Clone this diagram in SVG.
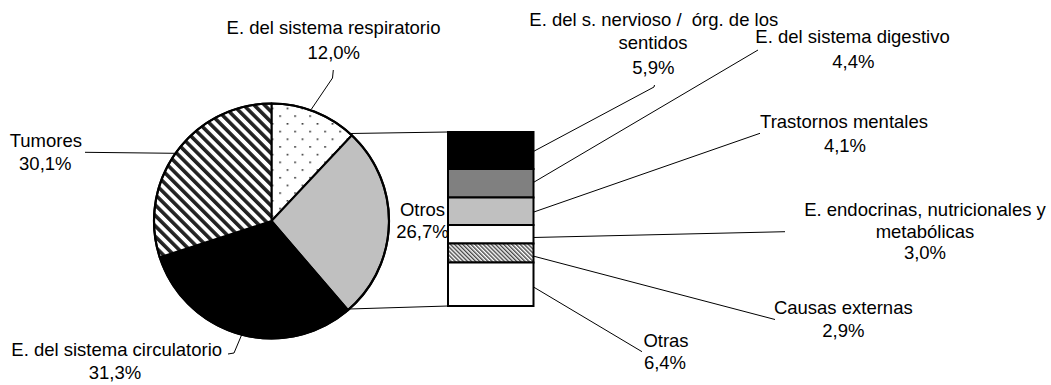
<svg xmlns="http://www.w3.org/2000/svg" width="1051" height="385" viewBox="0 0 1051 385">
<style>
text{font-family:"Liberation Sans",Arial,sans-serif;font-size:18.5px;fill:#000;text-anchor:middle}
.slice{stroke:#000;stroke-width:2;stroke-linejoin:round}
.seg{stroke:#000;stroke-width:2}
.lead{fill:none;stroke:#000;stroke-width:1}
</style>
<defs>
<pattern id="dots" patternUnits="userSpaceOnUse" x="279.3" y="115.3" width="15" height="15.4">
<rect width="15" height="15.4" fill="#fff"/>
<rect x="0" y="0" width="1.6" height="1.6" fill="#222"/>
<rect x="7.5" y="7.7" width="1.6" height="1.6" fill="#222"/>
</pattern>
<pattern id="stripes" patternUnits="userSpaceOnUse" width="7.4" height="10" patternTransform="rotate(-45)">
<rect width="7.4" height="10" fill="#fff"/>
<rect width="3.6" height="10" fill="#222"/>
</pattern>
<pattern id="hatch" patternUnits="userSpaceOnUse" width="2.9" height="10" patternTransform="rotate(-45)">
<rect width="2.9" height="10" fill="#fff"/>
<rect width="1.4" height="10" fill="#444"/>
</pattern>
</defs>

<g id="connectors">
<path class="lead" d="M311.5,109 L332.5,78 L333.3,70"/>
<path class="lead" d="M85,152.3 L175,153.3"/>
<path class="lead" d="M242,334 L234,353 L228,354"/>
<path class="lead" d="M350,133.5 L448,132"/>
<path class="lead" d="M349,309 L448,306"/>
<path class="lead" d="M533,151.7 L654,87 L654.5,85"/>
<path class="lead" d="M533,182.7 L758,50"/>
<path class="lead" d="M533,212.3 L760,133.3"/>
<path class="lead" d="M533,237.5 L785,231.7"/>
<path class="lead" d="M533,256 L775,319.5"/>
<path class="lead" d="M533,286.7 L642,351.7"/>
</g>

<g id="pie">
<g id="slice-respiratorio"><path class="slice" fill="url(#dots)" d="M271.5,221 L271.5,103.5 A117.5,117.5 0 0 1 351.9,135.3 Z"/></g>
<g id="slice-otros"><path class="slice" fill="#c0c0c0" d="M271.5,221 L351.9,135.3 A117.5,117.5 0 0 1 348.1,310.1 Z"/></g>
<g id="slice-circulatorio"><path class="slice" fill="#000" d="M271.5,221 L348.1,310.1 A117.5,117.5 0 0 1 159.75,257.3 Z"/></g>
<g id="slice-tumores"><path class="slice" fill="url(#stripes)" d="M271.5,221 L159.75,257.3 A117.5,117.5 0 0 1 271.5,103.5 Z"/></g>
<circle cx="271.5" cy="221" r="117.5" fill="none" stroke="#000" stroke-width="2.2"/>
</g>

<g id="label-otros">
<text x="422.5" y="215.7">Otros</text>
<text x="422.5" y="238.3">26,7%</text>
</g>

<g id="bar">
<rect class="seg" x="448" y="132" width="85.5" height="37" fill="#000"/>
<rect class="seg" x="448" y="169" width="85.5" height="28.5" fill="#808080"/>
<rect class="seg" x="448" y="197.5" width="85.5" height="27.5" fill="#c0c0c0"/>
<rect class="seg" x="448" y="225" width="85.5" height="18.5" fill="#fff"/>
<rect class="seg" x="448" y="243.5" width="85.5" height="19" fill="url(#hatch)"/>
<rect class="seg" x="448" y="262.5" width="85.5" height="43.5" fill="#fff"/>
</g>

<g id="label-respiratorio">
<text x="333.5" y="34">E. del sistema respiratorio</text>
<text x="333.8" y="59.3">12,0%</text>
</g>
<g id="label-tumores">
<text x="45.8" y="146.7">Tumores</text>
<text x="45.3" y="170">30,1%</text>
</g>
<g id="label-circulatorio">
<text x="116.7" y="356">E. del sistema circulatorio</text>
<text x="115" y="379">31,3%</text>
</g>
<g id="label-nervioso">
<text x="653.8" y="26" xml:space="preserve">E. del s. nervioso /  órg. de los</text>
<text x="653" y="49.3">sentidos</text>
<text x="653.3" y="74">5,9%</text>
</g>
<g id="label-digestivo">
<text x="852.5" y="43.3">E. del sistema digestivo</text>
<text x="853.3" y="68.3">4,4%</text>
</g>
<g id="label-trastornos">
<text x="844" y="127.7">Trastornos mentales</text>
<text x="845" y="151.7">4,1%</text>
</g>
<g id="label-endocrinas">
<text x="925" y="215.7">E. endocrinas, nutricionales y</text>
<text x="925" y="237.7">metabólicas</text>
<text x="925" y="259">3,0%</text>
</g>
<g id="label-causas">
<text x="843.3" y="314">Causas externas</text>
<text x="843.3" y="337.3">2,9%</text>
</g>
<g id="label-otras">
<text x="666" y="346.7">Otras</text>
<text x="665" y="369">6,4%</text>
</g>
</svg>
